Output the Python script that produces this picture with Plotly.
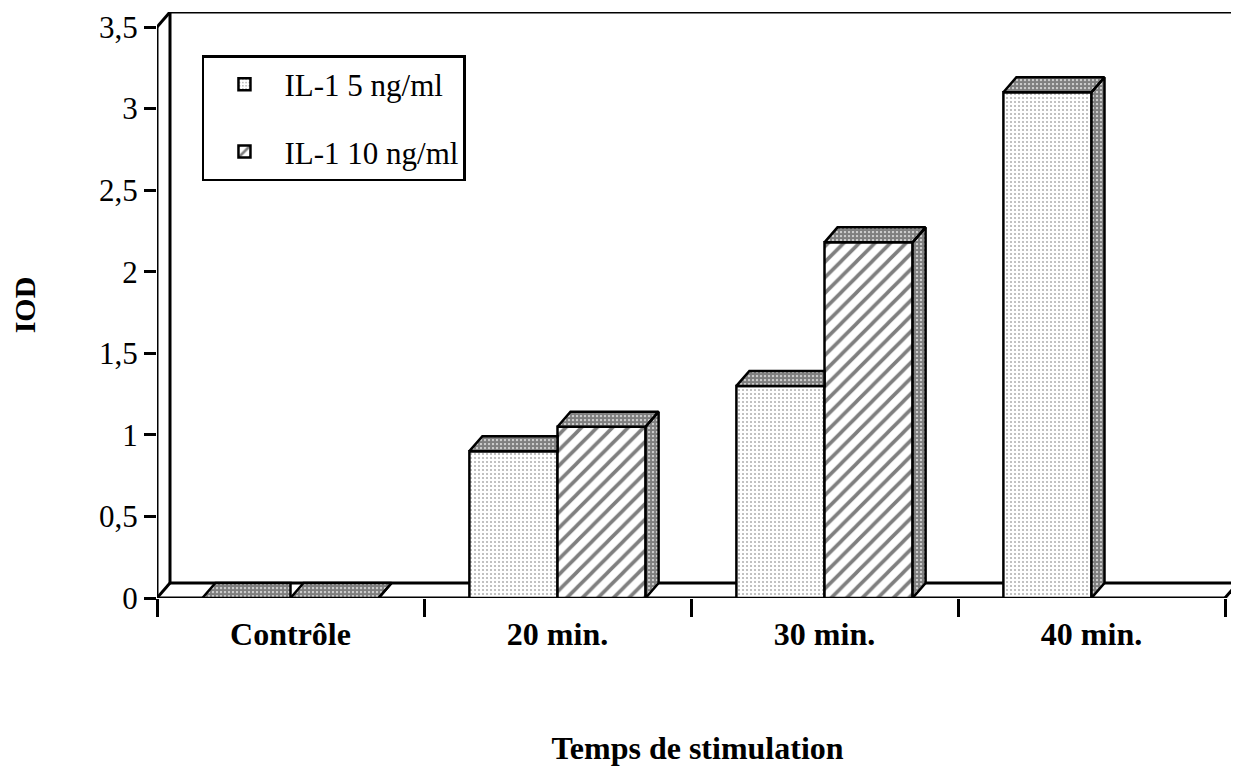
import plotly.graph_objects as go

# ---------------- data ----------------
categories = ["Contrôle", "20 min.", "30 min.", "40 min."]
il1_5 = [0.0, 0.9, 1.3, 3.1]
il1_10 = [0.0, 1.05, 2.18, None]
series_names = ["IL-1 5 ng/ml", "IL-1 10 ng/ml"]
y_tickvals = [0, 0.5, 1, 1.5, 2, 2.5, 3, 3.5]
y_ticktext = ["0", "0,5", "1", "1,5", "2", "2,5", "3", "3,5"]
x_title = "Temps de stimulation"
y_title = "IOD"

# ---------------- style ----------------
SERIF = "Liberation Serif"
BAR_W = 0.33      # width of one bar (category units)
DX = 0.0487       # 3D depth, x (category units)
DY = 0.092        # 3D depth, y (value units)
YMAX = 3.5
XMIN, XMAX = -0.5, len(categories) - 0.5

xpos = list(range(len(categories)))

fig = go.Figure()

line_style = dict(color="black", width=2.5)

fig.add_bar(
    x=xpos, y=il1_5, width=BAR_W, offset=-BAR_W, name=series_names[0],
    legendgroup="a",
    marker=dict(color="white", line=line_style,
                pattern=dict(shape=".", size=4, solidity=0.22, fgcolor="#666666",
                             bgcolor="white", fillmode="overlay")),
)
fig.add_bar(
    x=xpos, y=il1_10, width=BAR_W, offset=0, name=series_names[1],
    legendgroup="b",
    marker=dict(color="white", line=line_style,
                pattern=dict(shape="/", size=11, solidity=0.33, fgcolor="black",
                             bgcolor="white", fillmode="overlay")),
)

# ---------- 3D top and side faces, computed from the values ----------
fx, fy = [], []


def poly(pts):
    for px, py in pts:
        fx.append(px)
        fy.append(py)
    fx.append(pts[0][0])
    fy.append(pts[0][1])
    fx.append(None)
    fy.append(None)


for i, (v5, v10) in enumerate(zip(il1_5, il1_10)):
    x0, x1 = i - BAR_W, i
    if v10 is not None and v10 >= v5:
        poly([(x0, v5), (x1, v5), (x1, v5 + DY), (x0 + DX, v5 + DY)])
    else:
        poly([(x0, v5), (x1, v5), (x1 + DX, v5 + DY), (x0 + DX, v5 + DY)])
        poly([(x1, 0), (x1, v5), (x1 + DX, v5 + DY), (x1 + DX, DY)])
    if v10 is not None:
        x0, x1 = i, i + BAR_W
        poly([(x0, v10), (x1, v10), (x1 + DX, v10 + DY), (x0 + DX, v10 + DY)])
        poly([(x1, 0), (x1, v10), (x1 + DX, v10 + DY), (x1 + DX, DY)])

fig.add_scatter(
    x=fx, y=fy, mode="lines", fill="toself", showlegend=False, hoverinfo="skip",
    line=dict(color="black", width=2.5),
    fillcolor="white",
    fillpattern=dict(shape=".", size=4, solidity=0.8, fgcolor="black", bgcolor="white"),
)

# ---------- 3D frame (walls / floor), below the bars ----------
frame = dict(color="black", width=3)
shapes = [
    dict(type="rect", x0=XMIN + DX, y0=DY, x1=XMAX + DX, y1=YMAX + DY),
    dict(type="line", x0=XMIN, y0=0, x1=XMIN, y1=YMAX),
    dict(type="line", x0=XMIN, y0=YMAX, x1=XMIN + DX, y1=YMAX + DY),
    dict(type="line", x0=XMIN, y0=0, x1=XMAX, y1=0),
    dict(type="line", x0=XMIN, y0=0, x1=XMIN + DX, y1=DY),
    dict(type="line", x0=XMAX, y0=0, x1=XMAX + DX, y1=DY),
]
for s in shapes:
    s.update(xref="x", yref="y", layer="below", line=frame)

fig.update_layout(
    width=1231, height=759,
    margin=dict(l=149, r=1, t=4, b=169),
    paper_bgcolor="white", plot_bgcolor="white",
    shapes=shapes,
    barmode="overlay",
    font=dict(family=SERIF, color="black"),
    legend=dict(
        x=0.0416, y=0.9266, xanchor="left", yanchor="top",
        bgcolor="white", bordercolor="black", borderwidth=2.5,
        font=dict(family=SERIF, size=31, color="black"),
        traceorder="grouped", tracegroupgap=24, itemwidth=70,
        entrywidth=230, entrywidthmode="pixels",
    ),
    xaxis=dict(
        range=[XMIN, XMAX + DX], tickmode="array", tickvals=xpos, ticktext=categories,
        ticks="", showgrid=False, zeroline=False, showline=False,
        tickfont=dict(family=SERIF, size=32, weight="bold", color="black"),
        ticklabelstandoff=14,
        minor=dict(tickmode="array", tickvals=[XMIN + k for k in range(len(categories) + 1)],
                   ticks="outside", ticklen=18, tickwidth=2.5, tickcolor="black", showgrid=False),
        title=dict(text=x_title, standoff=85,
                   font=dict(family=SERIF, size=32, weight="bold", color="black")),
    ),
    yaxis=dict(
        range=[0, YMAX + DY], tickmode="array", tickvals=y_tickvals, ticktext=y_ticktext,
        ticks="outside", ticklen=12, tickwidth=2.5, tickcolor="black",
        showgrid=False, zeroline=False, showline=False,
        tickfont=dict(family=SERIF, size=31, color="black"),
        title=dict(text=y_title, standoff=58,
                   font=dict(family=SERIF, size=30, weight="bold", color="black")),
    ),
)

fig.write_html("out.html")
